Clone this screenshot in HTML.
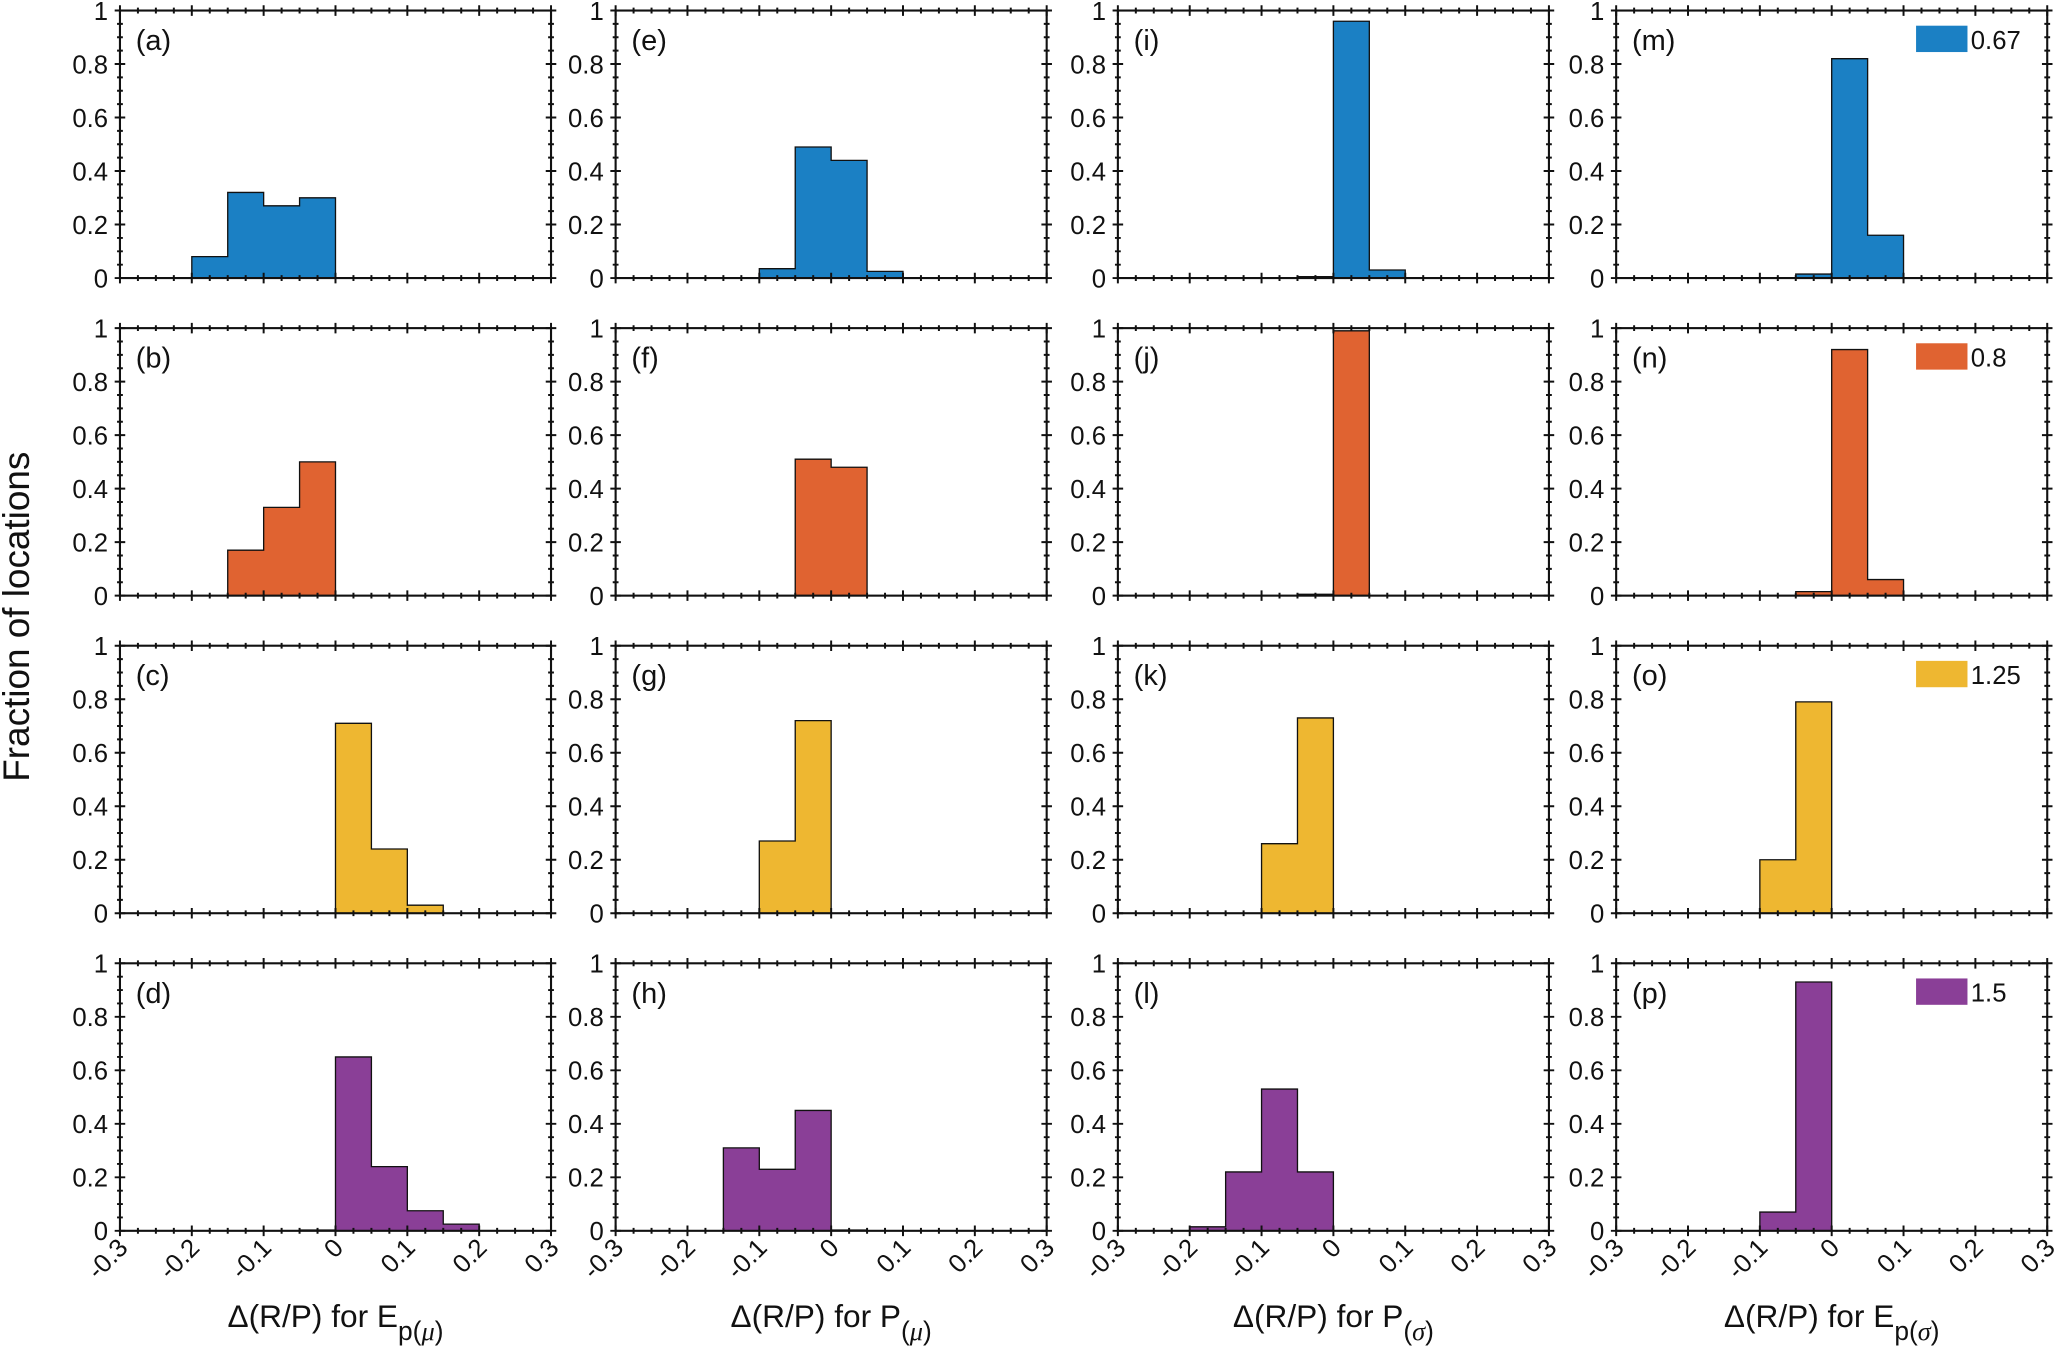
<!DOCTYPE html>
<html><head><meta charset="utf-8"><style>
body{margin:0;background:#fff}
svg{display:block;font-family:"Liberation Sans",Arial,sans-serif}
</style></head><body>
<svg id="chart" width="2067" height="1356" viewBox="0 0 1568 1029" preserveAspectRatio="none" xmlns="http://www.w3.org/2000/svg"></svg>
<script>
const xTicks=[-0.3,-0.2,-0.1,0,0.1,0.2,0.3];
const yTicks=[0,0.2,0.4,0.6,0.8,1];
const binEdgesStart=-0.3;
const binWidth=0.05;
const panelLabels=[["(a)","(b)","(c)","(d)"],["(e)","(f)","(g)","(h)"],["(i)","(j)","(k)","(l)"],["(m)","(n)","(o)","(p)"]];
const legendValues=["0.67","0.8","1.25","1.5"];
const colA=[[0,0,0.08,0.32,0.27,0.30,0,0,0,0,0,0],[0,0,0,0.17,0.33,0.50,0,0,0,0,0,0],[0,0,0,0,0,0,0.71,0.24,0.03,0,0,0],[0,0,0,0,0,0.003,0.65,0.24,0.075,0.025,0,0]];
const colE=[[0,0,0,0,0.035,0.49,0.44,0.025,0,0,0,0],[0,0,0,0,0,0.51,0.48,0,0,0,0,0],[0,0,0,0,0.27,0.72,0,0,0,0,0,0],[0,0,0,0.31,0.23,0.45,0.003,0,0,0,0,0]];
const colI=[[0,0,0,0,0,0.005,0.96,0.03,0,0,0,0],[0,0,0,0,0,0.005,0.99,0,0,0,0,0],[0,0,0,0,0.26,0.73,0,0,0,0,0,0],[0,0,0.015,0.22,0.53,0.22,0,0,0,0,0,0]];
const colM=[[0,0,0,0,0,0.015,0.82,0.16,0,0,0,0],[0,0,0,0,0,0.015,0.92,0.06,0,0,0,0],[0,0,0,0,0.20,0.79,0,0,0,0,0,0],[0,0,0,0,0.07,0.93,0,0,0,0,0,0]];
const columns=[colA,colE,colI,colM];

const colors=["#1b80c4","#e06331","#eeb731","#8a3f97"];
const NS="http://www.w3.org/2000/svg";
const svg=document.getElementById("chart");
const colLeft=[91,467,848,1226], W=327;
const rowTop=[8,249,490,731], H=203;
function mk(tag,attrs,parent){const e=document.createElementNS(NS,tag);for(const k in attrs)e.setAttribute(k,attrs[k]);(parent||svg).appendChild(e);return e;}
for(let c=0;c<4;c++){for(let r=0;r<4;r++){
  const L=colLeft[c],T=rowTop[r],B=T+H,R=L+W;
  const X=v=>L+(v+0.3)/0.6*W, Y=v=>B-v*H;
  const g=mk("g",{});
  
  
  const vals=columns[c][r];
  let d="M"+X(binEdgesStart)+","+Y(0);
  vals.forEach((v,i)=>{const x0=X(binEdgesStart+i*binWidth),x1=X(binEdgesStart+(i+1)*binWidth);d+=" L"+x0+","+Y(v)+" L"+x1+","+Y(v);});
  d+=" L"+X(binEdgesStart+vals.length*binWidth)+","+Y(0)+" Z";
  const p=mk("path",{d:d,fill:colors[r],stroke:"#111","stroke-width":1},g);
  
  
  const fr=mk("rect",{x:L,y:T,width:W,height:H,fill:"none",stroke:"#111","stroke-width":1.6},g);
  
  
  let td="";
  for(let k=0;k<=20;k++){const v=k*0.05,y=Y(v),len=(k%4==0)?4:2.2;td+=`M${L-len},${y}H${L+len}M${R-len},${y}H${R+len}`;}
  for(let k=0;k<=24;k++){const v=-0.3+k*0.025,x=X(v),len=(k%4==0)?4:2.2;td+=`M${x},${T-len}V${T+len}M${x},${B-len}V${B+len}`;}
  mk("path",{d:td,stroke:"#111","stroke-width":1.5,fill:"none"},g);
  yTicks.forEach(v=>{const t=mk("text",{x:L-9,y:Y(v)+7,"text-anchor":"end","font-size":19.5,fill:"#111"},g);t.textContent=(v===0||v===1)?String(v):v.toFixed(1);
    });
  const pl=mk("text",{x:L+12,y:T+30,"font-size":22,fill:"#111"},g);pl.textContent=panelLabels[c][r];
  
  if(c===3){const lr=mk("rect",{x:R-99,y:T+12,width:38,height:19,fill:colors[r],stroke:colors[r]},g);
    
    const lt=mk("text",{x:R-58,y:T+29,"font-size":19.5,fill:"#111"},g);lt.textContent=legendValues[r];
    }
  if(r===3){xTicks.forEach(v=>{const x=X(v)+7,y=B+14;const t=mk("text",{x:x,y:y,"text-anchor":"end","font-size":19.5,fill:"#111",transform:`rotate(-45 ${x} ${y})`},g);
    t.textContent=v===0?"0":(v<0?"-":"")+Math.abs(v).toFixed(1);
    });}
}}
const xl=[["E","p(","μ",")"],["P","(","μ",")"],["P","(","σ",")"],["E","p(","σ",")"]];
xl.forEach((s,c)=>{const cx=colLeft[c]+W/2;const t=mk("text",{x:cx,y:1007,"text-anchor":"middle","font-size":24,fill:"#111"});
  
  t.innerHTML=`Δ(R/P) for ${s[0]}<tspan font-size="20" dy="10">${s[1]}</tspan><tspan font-size="20" font-style="italic" font-family="Liberation Serif">${s[2]}</tspan><tspan font-size="20">${s[3]}</tspan>`;});
const yt=mk("text",{x:22,y:468,"text-anchor":"middle","font-size":28,fill:"#111",transform:"rotate(-90 22 468)"});
yt.textContent="Fraction of locations";


</script>
</body></html>
